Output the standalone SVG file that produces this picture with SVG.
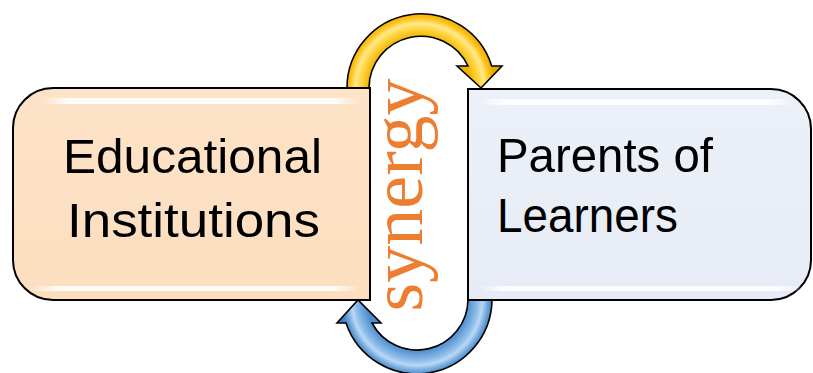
<svg xmlns="http://www.w3.org/2000/svg" width="813" height="373" viewBox="0 0 813 373">
  <defs>
    <radialGradient id="gold" gradientUnits="userSpaceOnUse" cx="420" cy="88" r="75">
      <stop offset="0.68" stop-color="#F2B400"/>
      <stop offset="0.80" stop-color="#FFD84A"/>
      <stop offset="0.86" stop-color="#FFE98C"/>
      <stop offset="0.93" stop-color="#FFC41A"/>
      <stop offset="1" stop-color="#EDA800"/>
    </radialGradient>
    <radialGradient id="blue" gradientUnits="userSpaceOnUse" cx="417" cy="300" r="76">
      <stop offset="0.66" stop-color="#4E8CCB"/>
      <stop offset="0.80" stop-color="#8CBDEA"/>
      <stop offset="0.86" stop-color="#B9D8F4"/>
      <stop offset="0.93" stop-color="#6FA6DB"/>
      <stop offset="1" stop-color="#3F7DBE"/>
    </radialGradient>
    <linearGradient id="peach" x1="0" y1="0" x2="0" y2="1">
      <stop offset="0" stop-color="#FDE3C8"/>
      <stop offset="1" stop-color="#FCDEBF"/>
    </linearGradient>
    <linearGradient id="pale" x1="0" y1="0" x2="0" y2="1">
      <stop offset="0" stop-color="#ECF0F8"/>
      <stop offset="1" stop-color="#E6EBF5"/>
    </linearGradient>
    <linearGradient id="shine" x1="0" y1="0" x2="1" y2="0">
      <stop offset="0" stop-color="#FFFFFF" stop-opacity="0"/>
      <stop offset="0.08" stop-color="#FFFFFF" stop-opacity="0.9"/>
      <stop offset="0.92" stop-color="#FFFFFF" stop-opacity="0.9"/>
      <stop offset="1" stop-color="#FFFFFF" stop-opacity="0"/>
    </linearGradient>
  </defs>
  <style>
    .box { stroke: #000; stroke-width: 2; }
    .arrow { stroke: #000; stroke-width: 1.6; stroke-linejoin: miter; }
    .label { font-family: "Liberation Sans", Arial, sans-serif; font-size: 49px; fill: #000; }
    .syn { font-family: "Liberation Serif", "Times New Roman", serif; font-size: 74px; fill: #ED7D31; }
    .shine { fill: url(#shine); }
  </style>
  <rect width="813" height="373" fill="#FFFFFF"/>
  <g id="connectors">
    <path class="arrow" fill="url(#gold)" d="M347,88 A74,74 0 0 1 491.7,66 L502,66 L481,88 L457,66 L468,66 A52,52 0 0 0 369,88 Z"/>
    <path class="arrow" fill="url(#blue)" d="M492,300 A75,75 0 0 1 346,323 L337,323 L358,300 L381,323 L372,323 A51,51 0 0 0 468,300 Z"/>
  </g>
  <g id="node-educational">
    <path class="box" fill="url(#peach)" d="M370,88 L53,88 A40,40 0 0 0 13,128 L13,260 A40,40 0 0 0 53,300 L370,300 Z"/>
    <rect class="shine" x="42" y="98" width="318" height="6" rx="3"/>
    <rect class="shine" x="30" y="286" width="330" height="5" rx="2.5"/>
    <text class="label" x="63" y="173" textLength="259" lengthAdjust="spacingAndGlyphs">Educational</text>
    <text class="label" x="67" y="237" textLength="253" lengthAdjust="spacingAndGlyphs">Institutions</text>
  </g>
  <g id="node-synergy">
    <text class="syn" transform="translate(422,195) rotate(-90)" text-anchor="middle">synergy</text>
  </g>
  <g id="node-parents">
    <path class="box" fill="url(#pale)" d="M468,89 L771,89 A40,40 0 0 1 811,129 L811,260 A40,40 0 0 1 771,300 L468,300 Z"/>
    <rect class="shine" x="478" y="99" width="318" height="6" rx="3"/>
    <rect class="shine" x="478" y="286" width="325" height="5" rx="2.5"/>
    <text class="label" x="497" y="172" textLength="216" lengthAdjust="spacingAndGlyphs">Parents of</text>
    <text class="label" x="497" y="232" textLength="181" lengthAdjust="spacingAndGlyphs">Learners</text>
  </g>
</svg>
